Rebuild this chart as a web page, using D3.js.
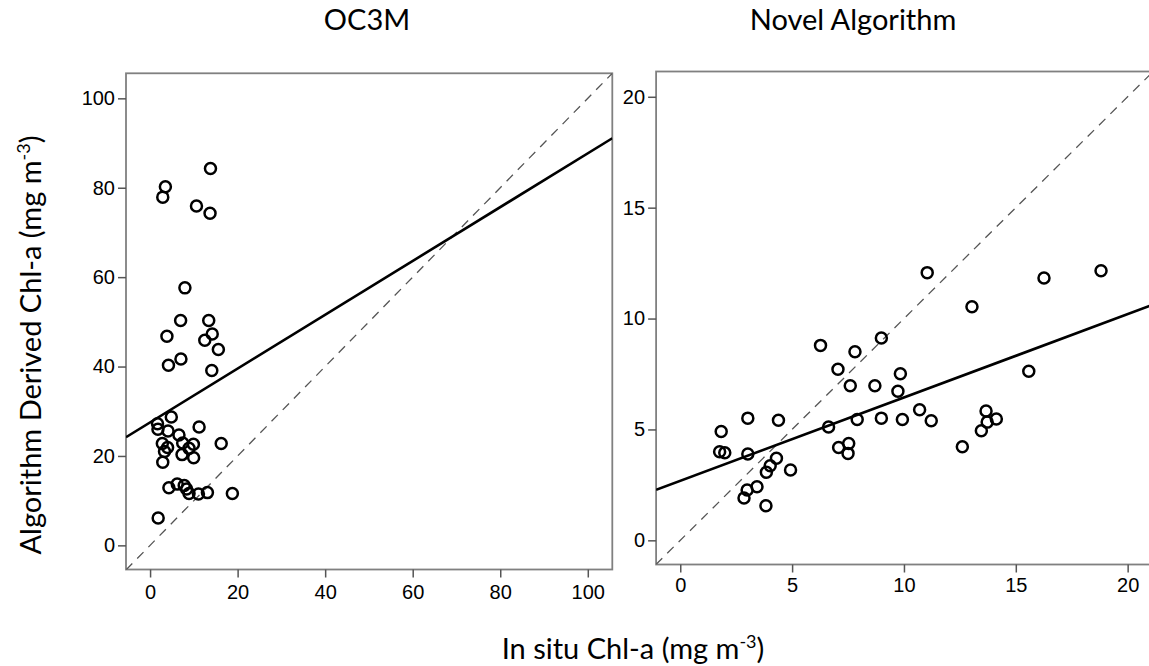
<!DOCTYPE html>
<html>
<head>
<meta charset="utf-8">
<script src="https://cdn.jsdelivr.net/npm/d3@7"></script>
<style>
  body { margin: 0; background: #fff; }
  .tick text { font-family: "Liberation Sans", Arial, sans-serif; font-size: 20px; fill: #000; }
  .tick line { stroke: #555; stroke-width: 1.5; }
  .title { font-family: Lato, "Open Sans", sans-serif; font-size: 29px; fill: #000; }
</style>
</head>
<body>
<div id="chart"></div>
<script>
// OC3M panel values
var oc3mInSitu = [13.8, 3.5, 2.9, 10.6, 13.7, 7.96, 6.98, 13.4, 3.85, 14.2, 12.5, 15.6, 7.05, 4.2, 14.1,
  4.85, 1.7, 1.8, 4.1, 11.2, 6.6, 2.8, 7.45, 9.9, 16.25, 4.0, 3.3, 8.9, 7.3, 9.95, 2.9,
  4.3, 6.2, 7.8, 8.35, 8.9, 11.05, 13.1, 18.8, 1.85];
var oc3mDerived = [84.3, 80.2, 77.9, 75.9, 74.3, 57.6, 50.3, 50.3, 46.8, 47.3, 45.9, 43.8, 41.7, 40.3, 39.1,
  28.7, 27.2, 26.0, 25.6, 26.5, 24.7, 22.8, 22.9, 22.6, 22.8, 21.9, 21.0, 21.7, 20.3, 19.6, 18.6,
  12.9, 13.7, 13.4, 12.6, 11.6, 11.5, 11.8, 11.6, 6.1];

// Novel algorithm panel values
var novelInSitu = [11.04, 18.81, 16.26, 13.04, 8.99, 6.27, 7.81, 7.05, 9.84, 15.58, 7.60, 8.70, 9.73, 10.70,
  13.67, 3.02, 4.39, 6.63, 7.91, 8.99, 9.93, 11.22, 13.72, 14.13, 13.46, 1.83, 1.76, 1.99, 3.02,
  7.08, 7.53, 7.50, 12.61, 4.30, 4.02, 3.85, 4.93, 3.43, 2.99, 2.85, 3.83];
var novelDerived = [12.07, 12.16, 11.83, 10.53, 9.12, 8.79, 8.50, 7.71, 7.51, 7.62, 6.97, 6.97, 6.72, 5.89,
  5.83, 5.51, 5.41, 5.11, 5.45, 5.51, 5.45, 5.39, 5.33, 5.47, 4.94, 4.91, 3.99, 3.95, 3.89,
  4.19, 4.37, 3.92, 4.22, 3.70, 3.36, 3.07, 3.17, 2.42, 2.27, 1.91, 1.56];

// fitted lines [intercept, slope]
var oc3mFit = [27.5, 0.602];
var novelFit = [2.68, 0.376];

// tick labels
var oc3mTicks = [0, 20, 40, 60, 80, 100];
var novelTicks = [0, 5, 10, 15, 20];

var titles = ["OC3M", "Novel Algorithm"];

var svgWidth = 1149;
var svgHeight = 666;

var svg = d3.select("#chart")
  .append("svg")
  .attr("width", svgWidth)
  .attr("height", svgHeight);

var panels = [
  { title: titles[0], xs: oc3mInSitu, ys: oc3mDerived, fit: oc3mFit, ticks: oc3mTicks,
    xDomain: [-5.5, 105.6], yDomain: [-5.4, 105.6],
    left: 126, top: 73.3, width: 486.3, height: 496.2, titleX: 367, xLabelPad: 7 },
  { title: titles[1], xs: novelInSitu, ys: novelDerived, fit: novelFit, ticks: novelTicks,
    xDomain: [-1.08, 21.16], yDomain: [-1.09, 21.14],
    left: 656.1, top: 71.5, width: 497.5, height: 493, titleX: 853, xLabelPad: 5 }
];

panels.forEach(function (p, i) {
  var g = svg.append("g")
    .attr("transform", `translate(${p.left}, ${p.top})`);

  var x = d3.scaleLinear().domain(p.xDomain).range([0, p.width]);
  var y = d3.scaleLinear().domain(p.yDomain).range([p.height, 0]);

  g.append("clipPath")
    .attr("id", "clip" + i)
    .append("rect")
    .attr("width", p.width)
    .attr("height", p.height);

  // Frame
  g.append("rect")
    .attr("width", p.width)
    .attr("height", p.height)
    .attr("fill", "none")
    .attr("stroke", "#808080")
    .attr("stroke-width", 1.8);

  // Axes
  var xAxis = g.append("g")
    .attr("transform", `translate(0, ${p.height})`)
    .call(d3.axisBottom(x).tickValues(p.ticks).tickSize(8).tickPadding(p.xLabelPad));
  xAxis.select(".domain").remove();

  var yAxis = g.append("g")
    .call(d3.axisLeft(y).tickValues(p.ticks).tickSize(8).tickPadding(3));
  yAxis.select(".domain").remove();

  var plot = g.append("g").attr("clip-path", `url(#clip${i})`);

  // 1:1 dashed line
  var lo = Math.min(p.xDomain[0], p.yDomain[0]);
  var hi = Math.max(p.xDomain[1], p.yDomain[1]);
  plot.append("line")
    .attr("x1", x(lo)).attr("y1", y(lo))
    .attr("x2", x(hi)).attr("y2", y(hi))
    .attr("stroke", "#555")
    .attr("stroke-width", 1.3)
    .attr("stroke-dasharray", "9,7");

  // Regression line
  plot.append("line")
    .attr("x1", x(p.xDomain[0])).attr("y1", y(p.fit[0] + p.fit[1] * p.xDomain[0]))
    .attr("x2", x(p.xDomain[1])).attr("y2", y(p.fit[0] + p.fit[1] * p.xDomain[1]))
    .attr("stroke", "#000")
    .attr("stroke-width", 2.6);

  // Points
  plot.selectAll("circle")
    .data(p.xs)
    .enter()
    .append("circle")
    .attr("cx", d => x(d))
    .attr("cy", (d, k) => y(p.ys[k]))
    .attr("r", 5.5)
    .attr("fill", "none")
    .attr("stroke", "#000")
    .attr("stroke-width", 2.5);

  // Panel title
  svg.append("text")
    .attr("class", "title")
    .attr("x", p.titleX)
    .attr("y", 30)
    .attr("text-anchor", "middle")
    .text(p.title);
});

// Axis labels
var yLabel = svg.append("text")
  .attr("class", "title")
  .attr("transform", "translate(41, 345) rotate(-90)")
  .attr("text-anchor", "middle");
yLabel.append("tspan").text("Algorithm Derived Chl-a (mg m");
yLabel.append("tspan").attr("dy", -11).attr("font-size", "18px").text("-3");
yLabel.append("tspan").attr("dy", 11).text(")");

var xLabel = svg.append("text")
  .attr("class", "title")
  .attr("x", 633)
  .attr("y", 659)
  .attr("text-anchor", "middle");
xLabel.append("tspan").text("In situ Chl-a (mg m");
xLabel.append("tspan").attr("dy", -11).attr("font-size", "18px").text("-3");
xLabel.append("tspan").attr("dy", 11).text(")");
</script>
</body>
</html>
